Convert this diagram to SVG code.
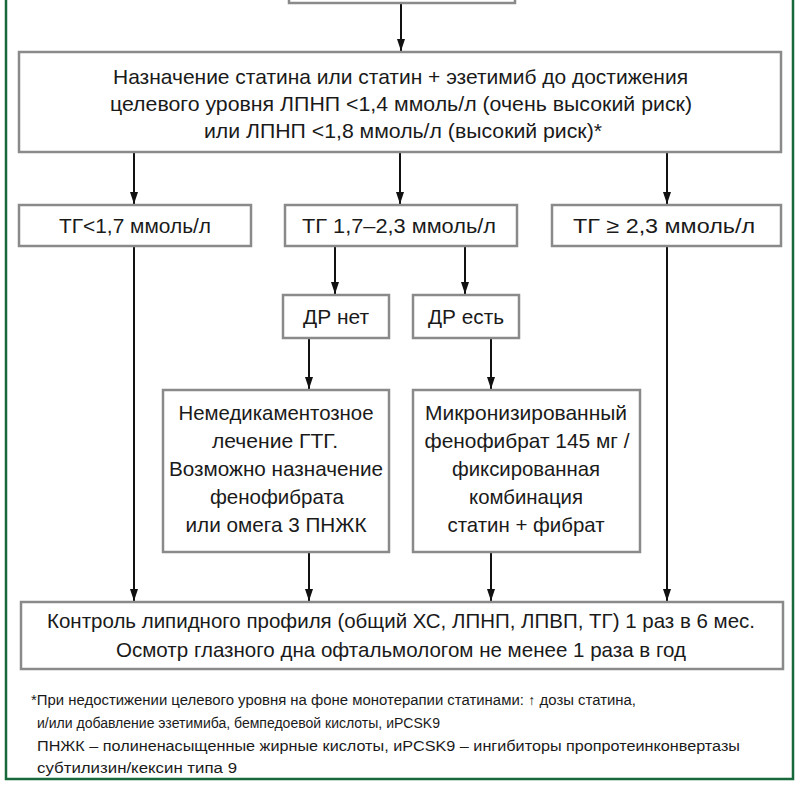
<svg xmlns="http://www.w3.org/2000/svg" width="800" height="800" viewBox="0 0 800 800">
<defs>
<style>
.box{fill:#fff;stroke:#8a8a8a;stroke-width:2.5}
.t{font-family:"Liberation Sans","Noto Sans",sans-serif;font-size:21px;fill:#1a1a1a;text-anchor:middle}
.f{font-family:"Liberation Sans","Noto Sans",sans-serif;font-size:14px;fill:#1a1a1a}
.c{stroke:#111;stroke-width:2;fill:none;marker-end:url(#ah)}
</style>
<marker id="ah" markerUnits="userSpaceOnUse" markerWidth="12" markerHeight="10" refX="12" refY="5" orient="auto">
<path d="M0,1 L12,5 L0,9 z" fill="#111"/>
</marker>
</defs>
<rect width="800" height="800" fill="#fff"/>
<path d="M6,0 V779 H793 V0" fill="none" stroke="#17683a" stroke-width="2.5"/>

<g id="connectors">
<line class="c" x1="401" y1="4" x2="401" y2="51"/>
<line class="c" x1="134" y1="152" x2="134" y2="204"/>
<line class="c" x1="400" y1="152" x2="400" y2="204"/>
<line class="c" x1="667" y1="152" x2="667" y2="204"/>
<line class="c" x1="335" y1="246" x2="335" y2="294"/>
<line class="c" x1="465" y1="246" x2="465" y2="294"/>
<line class="c" x1="309" y1="338" x2="309" y2="389"/>
<line class="c" x1="491" y1="338" x2="491" y2="389"/>
<line class="c" x1="134" y1="246" x2="134" y2="601"/>
<line class="c" x1="309" y1="552" x2="309" y2="601"/>
<line class="c" x1="491" y1="552" x2="491" y2="601"/>
<line class="c" x1="667" y1="246" x2="667" y2="601"/>
</g>

<g id="top">
<rect class="box" x="289" y="-20" width="226" height="23"/>
</g>

<g id="main">
<rect class="box" x="19" y="52" width="762" height="100"/>
<text class="t" x="400.5" y="84" textLength="575" lengthAdjust="spacingAndGlyphs">Назначение статина или статин + эзетимиб до достижения</text>
<text class="t" x="401" y="111" textLength="582" lengthAdjust="spacingAndGlyphs">целевого уровня ЛПНП &lt;1,4 ммоль/л (очень высокий риск)</text>
<text class="t" x="403" y="138" textLength="398" lengthAdjust="spacingAndGlyphs">или ЛПНП &lt;1,8 ммоль/л (высокий риск)*</text>
</g>

<g id="tg1">
<rect class="box" x="19" y="205" width="232" height="41"/>
<text class="t" x="135" y="233" textLength="152" lengthAdjust="spacingAndGlyphs">ТГ&lt;1,7 ммоль/л</text>
</g>
<g id="tg2">
<rect class="box" x="285" y="205" width="232" height="41"/>
<text class="t" x="399" y="233" textLength="194" lengthAdjust="spacingAndGlyphs">ТГ 1,7–2,3 ммоль/л</text>
</g>
<g id="tg3">
<rect class="box" x="552" y="205" width="229" height="41"/>
<text class="t" x="664" y="233" textLength="182" lengthAdjust="spacingAndGlyphs">ТГ ≥ 2,3 ммоль/л</text>
</g>

<g id="dr-no">
<rect class="box" x="283" y="295" width="106" height="43"/>
<text class="t" x="336" y="324" textLength="66" lengthAdjust="spacingAndGlyphs">ДР нет</text>
</g>
<g id="dr-yes">
<rect class="box" x="413" y="295" width="106" height="43"/>
<text class="t" x="466" y="324" textLength="76" lengthAdjust="spacingAndGlyphs">ДР есть</text>
</g>

<g id="treat-no">
<rect class="box" x="163" y="390" width="226" height="162"/>
<text class="t" x="276" y="420" textLength="195" lengthAdjust="spacingAndGlyphs">Немедикаментозное</text>
<text class="t" x="275" y="448" textLength="126" lengthAdjust="spacingAndGlyphs">лечение ГТГ.</text>
<text class="t" x="276" y="476" textLength="214" lengthAdjust="spacingAndGlyphs">Возможно назначение</text>
<text class="t" x="277" y="504" textLength="134" lengthAdjust="spacingAndGlyphs">фенофибрата</text>
<text class="t" x="276" y="532" textLength="181" lengthAdjust="spacingAndGlyphs">или омега 3 ПНЖК</text>
</g>
<g id="treat-yes">
<rect class="box" x="413" y="390" width="227" height="162"/>
<text class="t" x="526" y="420" textLength="202" lengthAdjust="spacingAndGlyphs">Микронизированный</text>
<text class="t" x="527" y="448" textLength="205" lengthAdjust="spacingAndGlyphs">фенофибрат 145 мг /</text>
<text class="t" x="526" y="476" textLength="148" lengthAdjust="spacingAndGlyphs">фиксированная</text>
<text class="t" x="526" y="504" textLength="114" lengthAdjust="spacingAndGlyphs">комбинация</text>
<text class="t" x="526" y="532" textLength="157" lengthAdjust="spacingAndGlyphs">статин + фибрат</text>
</g>

<g id="control">
<rect class="box" x="21" y="602" width="762" height="67"/>
<text class="t" x="401" y="628" textLength="708" lengthAdjust="spacingAndGlyphs">Контроль липидного профиля (общий ХС, ЛПНП, ЛПВП, ТГ) 1 раз в 6 мес.</text>
<text class="t" x="401" y="657" textLength="570" lengthAdjust="spacingAndGlyphs">Осмотр глазного дна офтальмологом не менее 1 раза в год</text>
</g>

<g id="footnote">
<text class="f" x="31" y="705" textLength="605" lengthAdjust="spacingAndGlyphs">*При недостижении целевого уровня на фоне монотерапии статинами: ↑ дозы статина,</text>
<text class="f" x="37" y="728" textLength="403" lengthAdjust="spacingAndGlyphs">и/или добавление эзетимиба, бемпедоевой кислоты, иPCSK9</text>
<text class="f" x="37" y="751" textLength="703" lengthAdjust="spacingAndGlyphs">ПНЖК – полиненасыщенные жирные кислоты, иPCSK9 – ингибиторы пропротеинконвертазы</text>
<text class="f" x="37" y="773" textLength="200" lengthAdjust="spacingAndGlyphs">субтилизин/кексин типа 9</text>
</g>
</svg>
